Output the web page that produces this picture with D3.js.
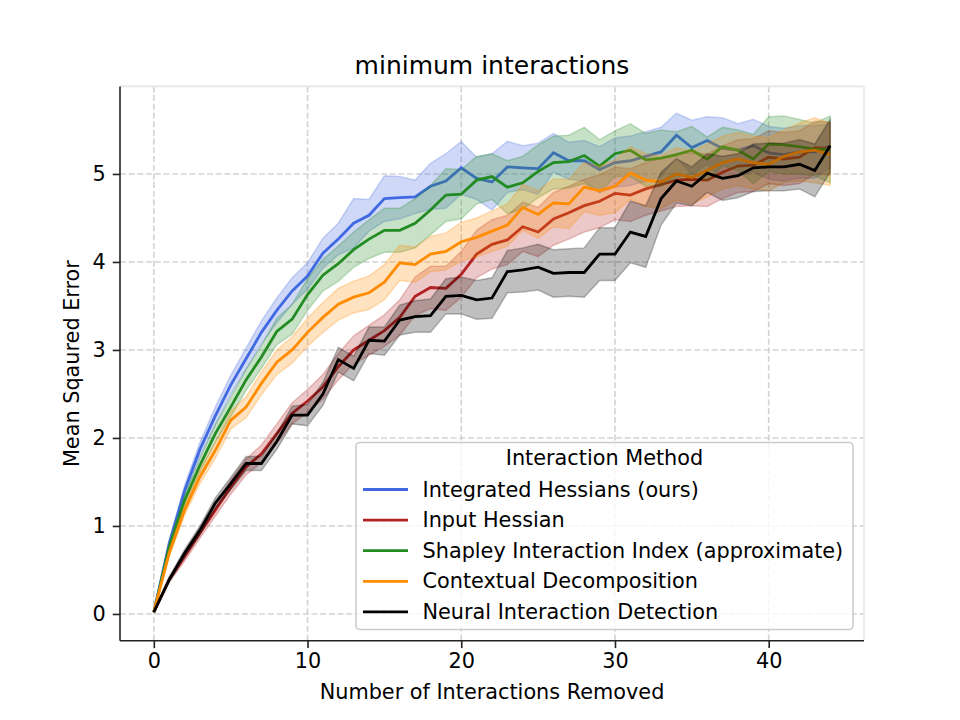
<!DOCTYPE html>
<html>
<head>
<meta charset="utf-8">
<script src="https://cdn.jsdelivr.net/npm/d3@7"></script>
<style>
  body { margin: 0; background: #fff; }
  svg { font-family: "DejaVu Sans", sans-serif; }
</style>
</head>
<body>
<svg id="chart" width="960" height="720"></svg>
<script>
// x values: number of interactions removed
var steps = d3.range(0, 45);

var seriesNames = ["Integrated Hessians (ours)", "Input Hessian",
  "Shapley Interaction Index (approximate)", "Contextual Decomposition",
  "Neural Interaction Detection"];
var seriesColors = ["royalblue", "firebrick", "forestgreen", "darkorange", "black"];

// mean squared error
var ihMean = [0.02,0.8,1.4,1.87,2.25,2.6,2.9,3.2,3.45,3.67,3.84,4.1,4.26,4.44,4.53,4.72,4.73,4.74,4.86,4.92,5.07,4.95,4.91,5.08,5.07,5.06,5.24,5.15,5.15,5.05,5.13,5.15,5.2,5.25,5.44,5.3,5.38,5.29,5.27,5.32,5.24,5.22,5.25,5.25,5.32];
var ihErr  = [0,0.04,0.06,0.08,0.1,0.11,0.12,0.13,0.14,0.15,0.15,0.17,0.18,0.28,0.18,0.26,0.24,0.19,0.26,0.31,0.3,0.24,0.32,0.29,0.25,0.29,0.22,0.21,0.23,0.26,0.28,0.28,0.28,0.28,0.25,0.31,0.27,0.35,0.3,0.3,0.3,0.3,0.3,0.3,0.25];

var hessMean = [0.02,0.39,0.65,0.92,1.18,1.44,1.67,1.82,2.05,2.28,2.42,2.58,2.81,3.0,3.11,3.22,3.37,3.61,3.71,3.7,3.86,4.09,4.2,4.25,4.4,4.34,4.49,4.56,4.64,4.69,4.78,4.76,4.83,4.88,4.93,4.94,4.93,5.02,5.09,5.1,5.19,5.17,5.19,5.3,5.29];
var hessErr  = [0,0.03,0.05,0.06,0.07,0.08,0.09,0.1,0.11,0.12,0.13,0.14,0.15,0.16,0.17,0.18,0.2,0.22,0.24,0.25,0.26,0.27,0.28,0.28,0.28,0.28,0.3,0.3,0.3,0.3,0.3,0.3,0.3,0.3,0.3,0.3,0.3,0.3,0.3,0.3,0.3,0.3,0.3,0.3,0.3];

var shapMean = [0.02,0.76,1.29,1.69,2.05,2.35,2.66,2.92,3.21,3.35,3.63,3.85,3.98,4.14,4.26,4.36,4.36,4.44,4.59,4.76,4.77,4.93,4.97,4.85,4.9,5.03,5.13,5.14,5.21,5.09,5.23,5.27,5.16,5.18,5.22,5.27,5.17,5.31,5.27,5.17,5.34,5.33,5.31,5.28,5.28];
var shapErr  = [0,0.04,0.06,0.08,0.1,0.11,0.12,0.13,0.15,0.17,0.18,0.18,0.2,0.2,0.22,0.25,0.25,0.28,0.28,0.3,0.28,0.27,0.26,0.3,0.3,0.3,0.3,0.3,0.32,0.3,0.26,0.3,0.3,0.32,0.26,0.27,0.25,0.22,0.23,0.28,0.31,0.33,0.31,0.3,0.38];

var cdMean = [0.02,0.69,1.18,1.56,1.86,2.2,2.35,2.62,2.86,3.0,3.2,3.37,3.52,3.6,3.65,3.77,3.99,3.97,4.09,4.12,4.23,4.28,4.35,4.42,4.62,4.54,4.67,4.66,4.85,4.81,4.86,5.01,4.93,4.91,5.0,4.96,5.04,5.13,5.17,5.13,5.11,5.2,5.25,5.27,5.22];
var cdErr  = [0,0.04,0.06,0.08,0.09,0.1,0.12,0.13,0.14,0.15,0.16,0.17,0.18,0.18,0.19,0.2,0.2,0.2,0.2,0.21,0.22,0.22,0.23,0.24,0.26,0.27,0.27,0.28,0.28,0.28,0.3,0.3,0.3,0.3,0.3,0.3,0.3,0.3,0.3,0.3,0.3,0.3,0.33,0.37,0.35];

var nidMean = [0.02,0.39,0.69,0.95,1.26,1.48,1.71,1.71,1.96,2.26,2.26,2.5,2.89,2.79,3.11,3.1,3.34,3.38,3.39,3.61,3.62,3.57,3.59,3.89,3.91,3.94,3.87,3.88,3.88,4.09,4.09,4.34,4.29,4.72,4.92,4.86,5.01,4.95,4.98,5.07,5.08,5.08,5.11,5.04,5.32];
var nidErr  = [0,0.03,0.04,0.05,0.06,0.07,0.08,0.08,0.09,0.1,0.12,0.13,0.14,0.14,0.15,0.16,0.17,0.18,0.19,0.2,0.21,0.22,0.23,0.24,0.25,0.26,0.27,0.27,0.28,0.3,0.3,0.35,0.35,0.3,0.25,0.22,0.22,0.25,0.25,0.27,0.27,0.27,0.28,0.3,0.3];

var xTicks = [0, 10, 20, 30, 40];
var yTicks = [0, 1, 2, 3, 4, 5];

var means = [ihMean, hessMean, shapMean, cdMean, nidMean];
var errs = [ihErr, hessErr, shapErr, cdErr, nidErr];

var svg = d3.select("#chart");
var axL = 120, axR = 864, axT = 86.4, axB = 640.8;

var x = d3.scaleLinear().domain([-2.2, 46.2]).range([axL, axR]);
var y = d3.scaleLinear().domain([-0.305, 5.995]).range([axB, axT]);

// grid
var grid = svg.append("g");
grid.selectAll("line.gx").data(xTicks).join("line")
  .attr("class", "gx")
  .attr("x1", d => x(d)).attr("x2", d => x(d))
  .attr("y1", axT).attr("y2", axB);
grid.selectAll("line.gy").data(yTicks).join("line")
  .attr("class", "gy")
  .attr("x1", axL).attr("x2", axR)
  .attr("y1", d => y(d)).attr("y2", d => y(d));
grid.selectAll("line")
  .attr("stroke", "#d3d3d3")
  .attr("stroke-width", 1.6)
  .attr("stroke-dasharray", "6,2.7");

// top/right spines are faint
svg.append("line").attr("x1", axL).attr("x2", axR).attr("y1", axT).attr("y2", axT)
  .attr("stroke", "#e6e6e6").attr("stroke-width", 1.6);
svg.append("line").attr("x1", axR).attr("x2", axR).attr("y1", axT).attr("y2", axB)
  .attr("stroke", "#e6e6e6").attr("stroke-width", 1.6);

var plot = svg.append("g");

var area = d3.area()
  .x((d, i) => x(steps[i]))
  .y0(d => y(d[0] - d[1]))
  .y1(d => y(d[0] + d[1]));
var line = d3.line()
  .x((d, i) => x(steps[i]))
  .y(d => y(d));

means.forEach(function(m, k) {
  var pairs = m.map((v, i) => [v, errs[k][i]]);
  plot.append("path")
    .attr("d", area(pairs))
    .attr("fill", seriesColors[k])
    .attr("fill-opacity", 0.25)
    .attr("stroke", seriesColors[k])
    .attr("stroke-opacity", 0.25)
    .attr("stroke-width", 1.5);
  plot.append("path")
    .attr("d", line(m))
    .attr("fill", "none")
    .attr("stroke", seriesColors[k])
    .attr("stroke-width", 2.8)
    .attr("stroke-linejoin", "miter");
});

// axes
var xAxis = svg.append("g")
  .attr("transform", "translate(0," + axB + ")")
  .call(d3.axisBottom(x).tickValues(xTicks).tickFormat(d3.format("d"))
    .tickSize(7.3).tickPadding(5));
var yAxis = svg.append("g")
  .attr("transform", "translate(" + axL + ",0)")
  .call(d3.axisLeft(y).tickValues(yTicks).tickFormat(d3.format("d"))
    .tickSize(7.3).tickPadding(7));
[xAxis, yAxis].forEach(function(a) {
  a.select(".domain").attr("stroke", "#222").attr("stroke-width", 1.6);
  a.selectAll(".tick line").attr("stroke", "#222").attr("stroke-width", 1.6);
  a.selectAll(".tick text").attr("font-size", 20.8).attr("fill", "#000")
    .attr("font-family", "DejaVu Sans");
});
xAxis.select(".domain").attr("d", "M" + axL + ",0H" + axR);
yAxis.select(".domain").attr("d", "M0," + axT + "V" + axB);

// labels
svg.append("text").attr("x", (axL + axR) / 2).attr("y", 74)
  .attr("text-anchor", "middle").attr("font-size", 25)
  .text("minimum interactions");
svg.append("text").attr("x", (axL + axR) / 2).attr("y", 699)
  .attr("text-anchor", "middle").attr("font-size", 20.8)
  .text("Number of Interactions Removed");
svg.append("text")
  .attr("transform", "translate(79," + ((axT + axB) / 2) + ") rotate(-90)")
  .attr("text-anchor", "middle").attr("font-size", 20.8)
  .text("Mean Sqaured Error");

// legend
var lg = svg.append("g");
lg.append("rect")
  .attr("x", 356).attr("y", 442.5).attr("width", 497).attr("height", 187)
  .attr("rx", 4).attr("fill", "#fff").attr("fill-opacity", 0.8)
  .attr("stroke", "#cccccc").attr("stroke-width", 1.6);
lg.append("text").attr("x", 604.5).attr("y", 458)
  .attr("dominant-baseline", "central").attr("text-anchor", "middle")
  .attr("font-size", 20.8).text("Interaction Method");
var rows = lg.selectAll("g.row").data(seriesNames).join("g")
  .attr("transform", (d, i) => "translate(0," + (489.5 + i * 30.6) + ")");
rows.append("line").attr("x1", 363).attr("x2", 408)
  .attr("stroke", (d, i) => seriesColors[i]).attr("stroke-width", 2.8);
rows.append("text").attr("x", 422.5).attr("dominant-baseline", "central")
  .attr("font-size", 20.8).text(d => d);
</script>
</body>
</html>
